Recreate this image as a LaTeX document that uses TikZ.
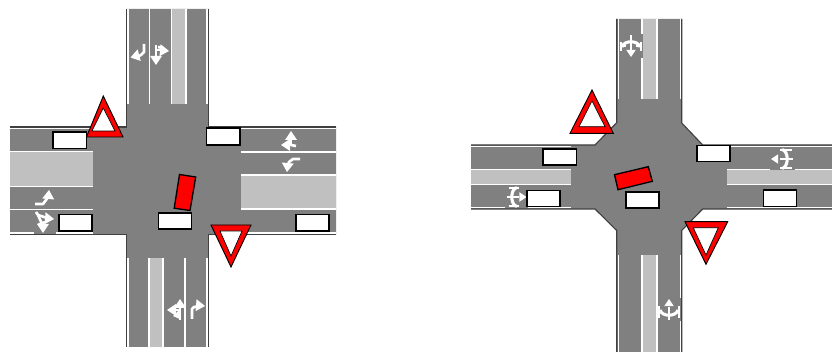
\documentclass[tikz,border=0pt]{standalone}
\tikzset{
  every picture/.style={x=0.75pt,y=-0.75pt},
  road/.style={fill=roadgrey},
  edgeline/.style={draw=black!75,line width=0.85pt},
  wline/.style={draw=white,line width=1.3pt},
  thinw/.style={draw=white,line width=0.9pt},
  slab/.style={fill=white,draw=black,line width=1.4pt},
  car/.style={fill=red,draw=black,line width=1pt},
  signout/.style={fill=red,draw=black,line width=0.7pt,line join=miter},
  signin/.style={fill=white,draw=black,line width=0.5pt},
  stem/.style={draw=white,line width=2pt,line join=round},
  arc/.style={draw=white,line width=2.3pt},
  tick/.style={draw=white,line width=1pt},
  patch/.style={fill=roadgrey}
}
\definecolor{roadgrey}{HTML}{808080}
\definecolor{medgrey}{HTML}{C0C0C0}
\newcommand{\hd}[4][1]{\fill[white,shift={(#2,#3)},rotate=#4,scale=#1] (0,0) -- (-9,-6) -- (-9,6) -- cycle;}
\newcommand{\vmed}[4]{\fill[medgrey] (#1,#3) rectangle (#2,#4);\draw[thinw] (#1,#3) -- (#1,#4) (#2,#3) -- (#2,#4);}
\newcommand{\hmed}[4]{\fill[medgrey] (#1,#3) rectangle (#2,#4);\draw[thinw] (#1,#3) -- (#2,#3) (#1,#4) -- (#2,#4);}
\begin{document}
\begin{tikzpicture}
\useasboundingbox (0,0) rectangle (832,352);
\fill[white] (0,0) rectangle (832,352);
% ---------- left intersection ----------
\fill[road] (126.5,9) -- (126.5,127) -- (10,127) -- (10,234.5) -- (126.5,234.5) -- (126.5,347)
  -- (208.5,347) -- (208.5,234.5) -- (336,234.5) -- (336,127) -- (208.5,127) -- (208.5,9) -- cycle;
\draw[edgeline] (126.5,9) -- (126.5,127) -- (10,127);
\draw[edgeline] (10,234.5) -- (126.5,234.5) -- (126.5,347);
\draw[edgeline] (208.5,9) -- (208.5,127) -- (336,127);
\draw[edgeline] (208.5,347) -- (208.5,234.5) -- (336,234.5);
% lane lines and medians
\draw[wline] (128,9) -- (128,104);
\draw[wline] (149.5,9) -- (149.5,104);
\draw[wline] (206.8,9) -- (206.8,104);
\vmed{171.5}{186}{9}{104}
\draw[wline] (10,128.5) -- (93,128.5);
\hmed{10}{93}{151.5}{186.5}
\draw[wline] (10,209.5) -- (93,209.5);
\draw[wline] (10,233) -- (93,233);
\draw[wline] (241,128.5) -- (336,128.5);
\draw[wline] (241,152) -- (336,152);
\hmed{241}{336}{175}{209}
\draw[wline] (241,233) -- (336,233);
\draw[wline] (128,258) -- (128,347);
\vmed{149}{163}{258}{347}
\draw[wline] (185,258) -- (185,347);
\draw[wline] (206.8,258) -- (206.8,347);
% arrows, left intersection
\draw[stem] (144,44) -- (144,52) -- (141,55) -- (137,57);
\hd{130.5}{57.5}{195}
\draw[stem] (156,45) -- (156,58);
\draw[stem] (156,50) -- (163,50);
\draw[stem] (158,47) -- (163,48);
\hd{169}{51}{-5}
\hd{156}{65}{270}
\fill[patch] (34,231.5) rectangle (56,234);
\draw[stem] (35,204) -- (43,204) -- (46,200) -- (48,197);
\hd{49}{190}{85}
\draw[stem] (38,215) -- (47,218);
\draw[stem] (38,215) -- (43,226);
\draw[stem] (45,222) -- (38,225);
\hd{54}{219}{-5}
\hd{43}{233}{270}
\draw[stem] (38,215) -- (36,212);
\draw[stem] (291,138) -- (291,145) -- (287,145);
\draw[stem] (286,139) -- (296,139);
\hd{291}{131}{90}
\hd{281}{145}{180}
\draw[stem] (296,146) -- (291,145);
\draw[stem] (300,159) -- (293,159) -- (289,162) -- (288,165);
\hd{287}{172}{265}
\draw[stem] (180,306) -- (180,320);
\draw[stem] (180,310) -- (174,310);
\hd{180}{299}{90}
\hd{167}{310}{180}
\hd[0.8]{173}{316}{190}
\draw[stem] (192,319) -- (192,309) -- (194,307) -- (198,306.5);
\hd{205}{306}{-5}
% slabs, car, signs
\draw[slab] (53,132) rectangle (86.5,148.5);
\draw[slab] (206.5,128) rectangle (240,145);
\draw[slab] (59,214.5) rectangle (92,231);
\draw[slab] (158.5,213) rectangle (191.5,229);
\draw[slab] (296,214.5) rectangle (329,231);
\draw[car] (179.5,174.5) -- (195.7,177) -- (190,210.5) -- (174.2,208.2) -- cycle;
\draw[signout] (103.3,96) -- (123,137) -- (86.5,137) -- cycle;
\draw[signin] (103.3,108) -- (115,131) -- (92,131) -- cycle;
\draw[signout] (211,225) -- (251,225) -- (231,267) -- cycle;
\draw[signin] (220,231) -- (242,231) -- (231,256) -- cycle;
% ---------- right intersection ----------
\fill[road] (616.7,19) -- (616.7,122.7) -- (595,145) -- (471,145) -- (471,209) -- (595,209) -- (616.7,230.5)
  -- (616.7,352) -- (681.7,352) -- (681.7,230.5) -- (702.7,209) -- (832,209) -- (832,145) -- (702.7,145)
  -- (681.7,123) -- (681.7,19) -- cycle;
\draw[edgeline] (616.7,19) -- (616.7,122.7) -- (595,145) -- (471,145);
\draw[edgeline] (471,209) -- (595,209) -- (616.7,230.5) -- (616.7,352);
\draw[edgeline] (681.7,19) -- (681.7,123) -- (702.7,145) -- (832,145);
\draw[edgeline] (681.7,352) -- (681.7,230.5) -- (702.7,209) -- (832,209);
\draw[thinw] (618.2,19) -- (618.2,99);
\vmed{642}{657}{19}{99}
\draw[thinw] (680.2,19) -- (680.2,99);
\draw[thinw] (471,146.5) -- (571,146.5);
\hmed{471}{571}{169.5}{184.5}
\draw[thinw] (471,207.5) -- (571,207.5);
\draw[thinw] (727,146.5) -- (832,146.5);
\hmed{727}{832}{169.5}{184.5}
\draw[thinw] (727,207.5) -- (832,207.5);
\draw[thinw] (618.2,255.5) -- (618.2,352);
\vmed{642}{657}{255.5}{352}
\draw[thinw] (680.2,255.5) -- (680.2,352);
% triple arrows
\fill[patch] (620,34) rectangle (642.5,58);
\draw[stem] (631,38) -- (631,50);
\draw[arc] (622,47) .. controls (624,40) and (638,40) .. (640,47);
\hd[0.8]{631}{57}{270}
\draw[tick] (621,42) -- (621,51) (641,42) -- (641,51) (631,35) -- (631,40);
\draw[stem] (624,46) -- (626,46) (636,46) -- (638,46);
\fill[patch] (505,186) rectangle (528,208);
\draw[stem] (507,197) -- (519,197);
\draw[arc] (517,187.5) .. controls (510,189) and (510,205) .. (517,206.5);
\hd[0.8]{526.5}{197}{0}
\draw[tick] (509,188) -- (519,188) (509,206) -- (519,206);
\fill[patch] (770,148) rectangle (795,170.5);
\draw[stem] (793,159) -- (780,159);
\draw[arc] (782,149.5) .. controls (789,151) and (789,167) .. (782,168.5);
\hd[0.8]{771}{159}{180}
\draw[tick] (780,150) -- (792,150) (780,168) -- (792,168);
\fill[patch] (658,298) rectangle (681,321);
\draw[stem] (669,307) -- (669,320);
\draw[arc] (660,310) .. controls (662,317) and (676,317) .. (678,310);
\hd[0.8]{669}{299}{90}
\draw[tick] (659,306) -- (659,318) (679,306) -- (679,318);
% slabs, car, signs
\draw[slab] (543,149) rectangle (576.5,165);
\draw[slab] (696.7,145.5) rectangle (730,161.5);
\draw[slab] (526.7,190.5) rectangle (560,206.5);
\draw[slab] (625.7,192) rectangle (659,208);
\draw[slab] (763.5,190) rectangle (796.5,206.5);
\draw[car] (614.5,174.7) -- (648.3,166.7) -- (652.3,181.3) -- (618,189.7) -- cycle;
\draw[signout] (592,90) -- (613.3,133.3) -- (570,133.3) -- cycle;
\draw[signin] (592,101) -- (605,126.7) -- (579,126.7) -- cycle;
\draw[signout] (685,221.7) -- (727.7,221.7) -- (706,264.3) -- cycle;
\draw[signin] (693.3,227.7) -- (718.3,227.7) -- (706,255) -- cycle;
\end{tikzpicture}
\end{document}
